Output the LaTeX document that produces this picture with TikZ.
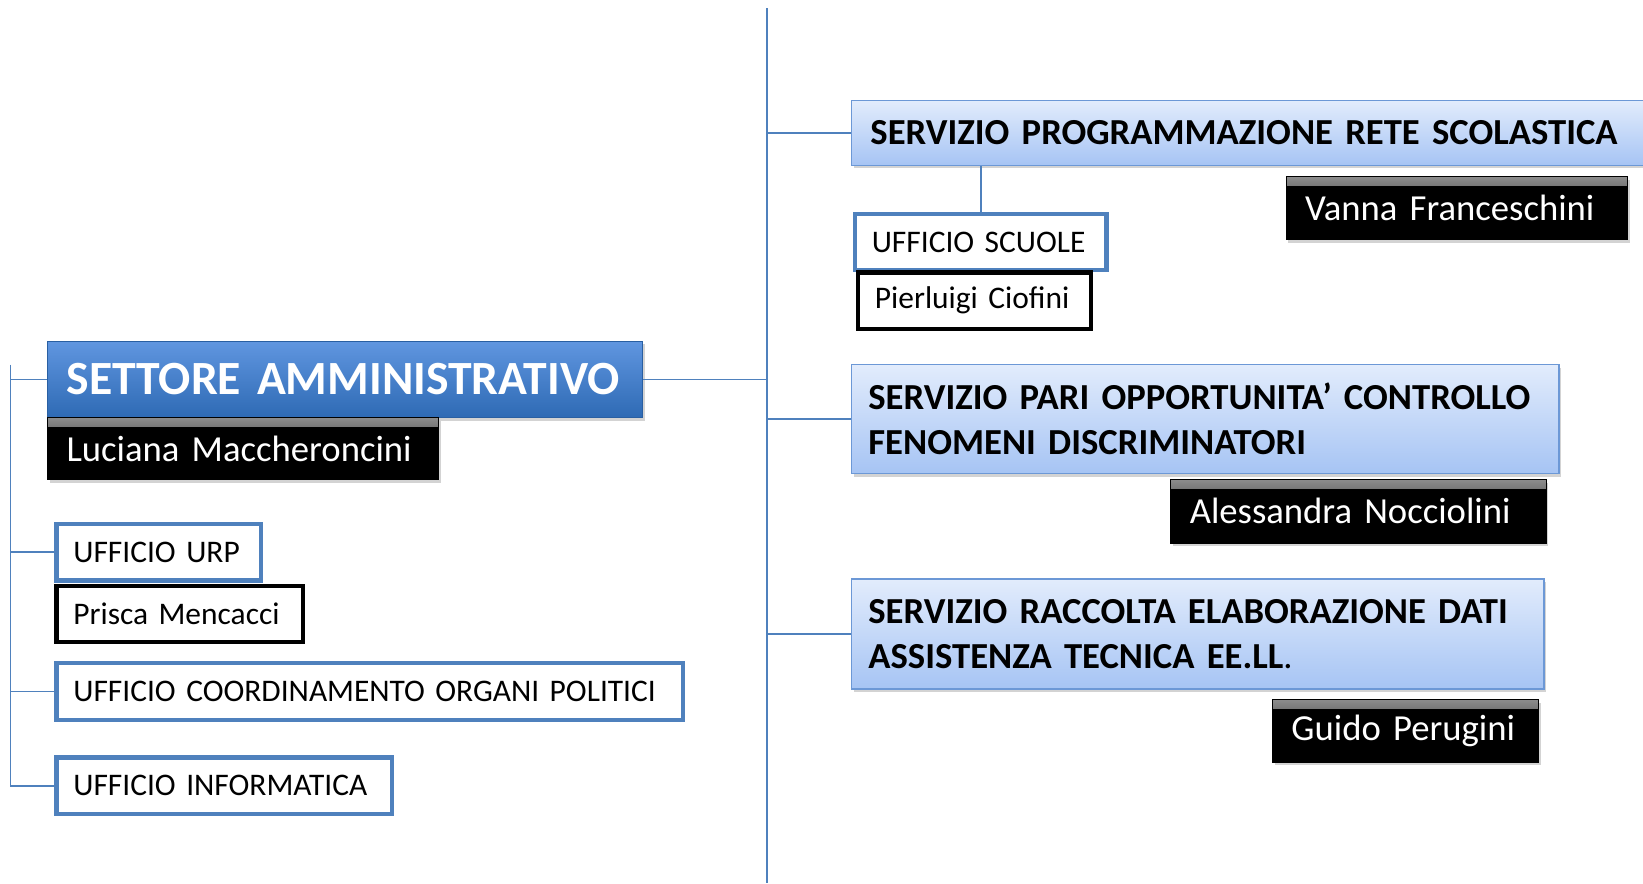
\documentclass[tikz,border=0pt]{standalone}
\usepackage{fontspec}
\setmainfont{Carlito}
\usetikzlibrary{calc,shadows}
\definecolor{lineblue}{RGB}{79,129,189}
\definecolor{setttop}{RGB}{96,150,224}
\definecolor{settbot}{RGB}{46,106,180}
\definecolor{servtop}{RGB}{226,236,252}
\definecolor{servbot}{RGB}{166,196,244}
\definecolor{servedge}{RGB}{108,152,214}
\tikzset{
	settbox/.style={anchor=north west, draw=settbot!90!black, line width=1pt, top color=setttop, bottom color=settbot, text=white, font=\fontsize{45.5}{50}\selectfont\bfseries, inner xsep=18pt, align=left, drop shadow={shadow xshift=2pt, shadow yshift=-3pt, opacity=0.35}},
	headbox/.style={anchor=north west, draw=black, line width=1pt, fill=black, text=white, font=\fontsize{35}{40}\selectfont, inner xsep=18pt, align=left, drop shadow={shadow xshift=2pt, shadow yshift=-3pt, opacity=0.35},
		path picture={\shade[top color=black!45, bottom color=black] (path picture bounding box.north west) rectangle ($(path picture bounding box.north east)+(0,9)$);}},
	servbox/.style={anchor=north west, draw=servedge, line width=1.5pt, top color=servtop, bottom color=servbot, font=\fontsize{35}{43}\selectfont\bfseries, inner xsep=16pt, align=left, drop shadow={shadow xshift=2pt, shadow yshift=-3pt, opacity=0.35}},
	offbox/.style={anchor=north west, draw=lineblue, line width=4pt, fill=white, font=\fontsize{30}{34}\selectfont, inner xsep=16pt, align=left},
	namebox/.style={anchor=north west, draw=black, line width=4pt, fill=white, font=\fontsize{30}{34}\selectfont, inner xsep=16pt, align=left},
	link/.style={draw=lineblue, line width=1.5pt}
}

\begin{document}
\begin{tikzpicture}[x=1pt, y=-1pt]
		%%%%% START %%%%%
		\useasboundingbox (0, 0) rectangle (1568, 843);
		
		\coordinate (spinetop) at (732, 8);
		\coordinate (spinebot) at (732, 843);
		\coordinate (lefttop) at (10, 348);
		
		\node[settbox, text width=532pt, minimum height=73pt] (sett) at (45, 325) {SETTORE AMMINISTRATIVO};
		\node[headbox, text width=337pt, minimum height=59pt] (luc) at (45, 398) {Luciana Maccheroncini};
		
		\node[offbox, text width=163pt, minimum height=54pt] (urp) at (52, 498) {UFFICIO URP};
		\node[namebox, text width=203pt, minimum height=54pt] (pri) at (52, 557) {Prisca Mencacci};
		\node[offbox, text width=566pt, minimum height=54pt] (coord) at (52, 631) {UFFICIO COORDINAMENTO ORGANI POLITICI};
		\node[offbox, text width=288pt, minimum height=54pt] (info) at (52, 721) {UFFICIO INFORMATICA};
		
		\node[servbox, text width=770pt, minimum height=62pt, inner xsep=18pt] (prog) at (812, 95) {SERVIZIO PROGRAMMAZIONE RETE SCOLASTICA};
		\node[headbox, text width=290pt, minimum height=60pt] (van) at (1227, 168) {Vanna Franceschini};
		\node[offbox, text width=208pt, minimum height=54pt] (scu) at (814, 202) {UFFICIO SCUOLE};
		\node[namebox, text width=190pt, minimum height=54pt] (pie) at (817, 258) {Pierluigi Ciofini};
		
		\node[servbox, text width=643pt, minimum height=104pt] (pari) at (812, 347) {SERVIZIO PARI OPPORTUNITA’ CONTROLLO\\FENOMENI DISCRIMINATORI};
		\node[headbox, text width=322pt, minimum height=61pt] (ale) at (1117, 457) {Alessandra Nocciolini};
		
		\node[servbox, text width=629pt, minimum height=105pt] (rac) at (812, 552) {SERVIZIO RACCOLTA ELABORAZIONE DATI\\ASSISTENZA TECNICA EE.LL{\mdseries .}};
		\node[headbox, text width=218pt, minimum height=60pt] (gui) at (1214, 667) {Guido Perugini};
		
		\draw[link] (spinetop) -- (spinebot);
		\draw[link] (sett.east) -- (sett.east -| spinetop);
		\draw[link] (prog.west -| spinetop) -- (prog.west);
		\draw[link] (pari.west -| spinetop) -- (pari.west);
		\draw[link] (rac.west -| spinetop) -- (rac.west);
		\draw[link] (prog.south -| scu.north) -- (scu.north);
		
		\draw[link] (lefttop) |- (info.west);
		\draw[link] (sett.west -| lefttop) -- (sett.west);
		\draw[link] (urp.west -| lefttop) -- (urp.west);
		\draw[link] (coord.west -| lefttop) -- (coord.west);
		%%%%% END %%%%%
	\end{tikzpicture}
\end{document}
